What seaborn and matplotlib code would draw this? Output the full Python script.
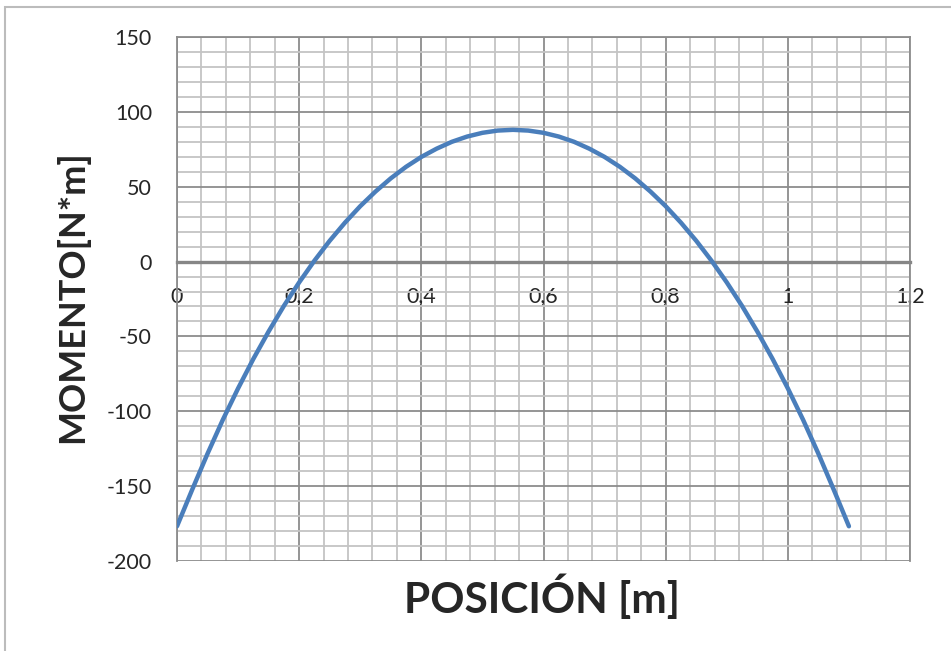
import matplotlib
matplotlib.use('Agg')
import matplotlib.pyplot as plt
import seaborn as sns
import pandas as pd
from matplotlib.ticker import MultipleLocator, FixedLocator
from matplotlib.patches import Rectangle

# datos (posición en m, momento en N*m)
posicion = [0.000, 0.025, 0.050, 0.075, 0.100, 0.125, 0.150, 0.175, 0.200, 0.225,
            0.250, 0.275, 0.300, 0.325, 0.350, 0.375, 0.400, 0.425, 0.450, 0.475,
            0.500, 0.525, 0.550, 0.575, 0.600, 0.625, 0.650, 0.675, 0.700, 0.725,
            0.750, 0.775, 0.800, 0.825, 0.850, 0.875, 0.900, 0.925, 0.950, 0.975,
            1.000, 1.025, 1.050, 1.075, 1.100]
momento = [-176.8, -152.2, -128.3, -105.7, -84.7, -65.0, -46.7, -29.6, -13.9, 0.6,
           13.9, 26.0, 37.0, 46.8, 55.6, 63.3, 69.9, 75.4, 80.0, 83.5,
           86.0, 87.5, 88.0, 87.5, 86.0, 83.5, 80.0, 75.4, 69.9, 63.3,
           55.6, 46.8, 37.0, 26.0, 13.9, 0.6, -13.9, -29.6, -46.7, -65.0,
           -84.7, -105.7, -128.3, -152.2, -176.8]

x_ticks = [0, 0.2, 0.4, 0.6, 0.8, 1.0, 1.2]
x_labels = ['0', '0,2', '0,4', '0,6', '0,8', '1', '1,2']
y_ticks = [-200, -150, -100, -50, 0, 50, 100, 150]

sns.set_style('white')
plt.rcParams['font.family'] = ['Lato', 'DejaVu Sans']
plt.rcParams['axes.unicode_minus'] = False

df = pd.DataFrame({'pos': posicion, 'mom': momento})

fig = plt.figure(figsize=(9.51, 6.51), dpi=100)
ax = fig.add_axes([177/951, 1 - 561/651, (910 - 177)/951, (561 - 37)/651])

sns.lineplot(data=df, x='pos', y='mom', ax=ax, color='#4a7ebb', linewidth=3.2,
             solid_capstyle='round', solid_joinstyle='round', zorder=4)

ax.set_xlim(0, 1.2)
ax.set_ylim(-200, 150)
ax.xaxis.set_major_locator(FixedLocator(x_ticks))
ax.set_xticklabels(x_labels)
ax.set_yticks(y_ticks)
ax.xaxis.set_minor_locator(MultipleLocator(0.04))
ax.yaxis.set_minor_locator(MultipleLocator(10))

# rejilla estilo Excel
ax.set_axisbelow(True)
ax.grid(which='minor', color='#c4c4c4', linewidth=1.3)
ax.grid(which='major', color='#8c8c8c', linewidth=1.3)

for s in ['top', 'right', 'left']:
    ax.spines[s].set_color('#8c8c8c')
    ax.spines[s].set_linewidth(1.3)
ax.spines['bottom'].set_position(('data', 0))
ax.spines['bottom'].set_color('#868686')
ax.spines['bottom'].set_linewidth(2.4)
ax.spines['bottom'].set_zorder(3)

ax.tick_params(axis='x', which='major', direction='out', length=4, width=2.5,
               color='#868686', labelsize=15.5, pad=14)
ax.tick_params(axis='y', which='major', direction='out', length=7, width=1.3,
               color='#8c8c8c', labelsize=15.5, pad=11)
ax.tick_params(which='minor', length=0)
ax.set_xlabel('')
ax.set_ylabel('')

fig.text(0.57, 0.083, 'POSICIÓN [m]', fontsize=30.5, fontweight='bold',
         ha='center', va='center')
fig.text(0.076, 0.544, 'MOMENTO[N*m]', fontsize=26, fontweight='bold',
         ha='center', va='center', rotation=90)

# borde del área del gráfico
fig.patches.append(Rectangle((5/951, -0.1), 2, 1.1 - 7/651, transform=fig.transFigure,
                             fill=False, edgecolor='#bcbcbc', linewidth=1.5))

fig.savefig('out.png', dpi=100)
